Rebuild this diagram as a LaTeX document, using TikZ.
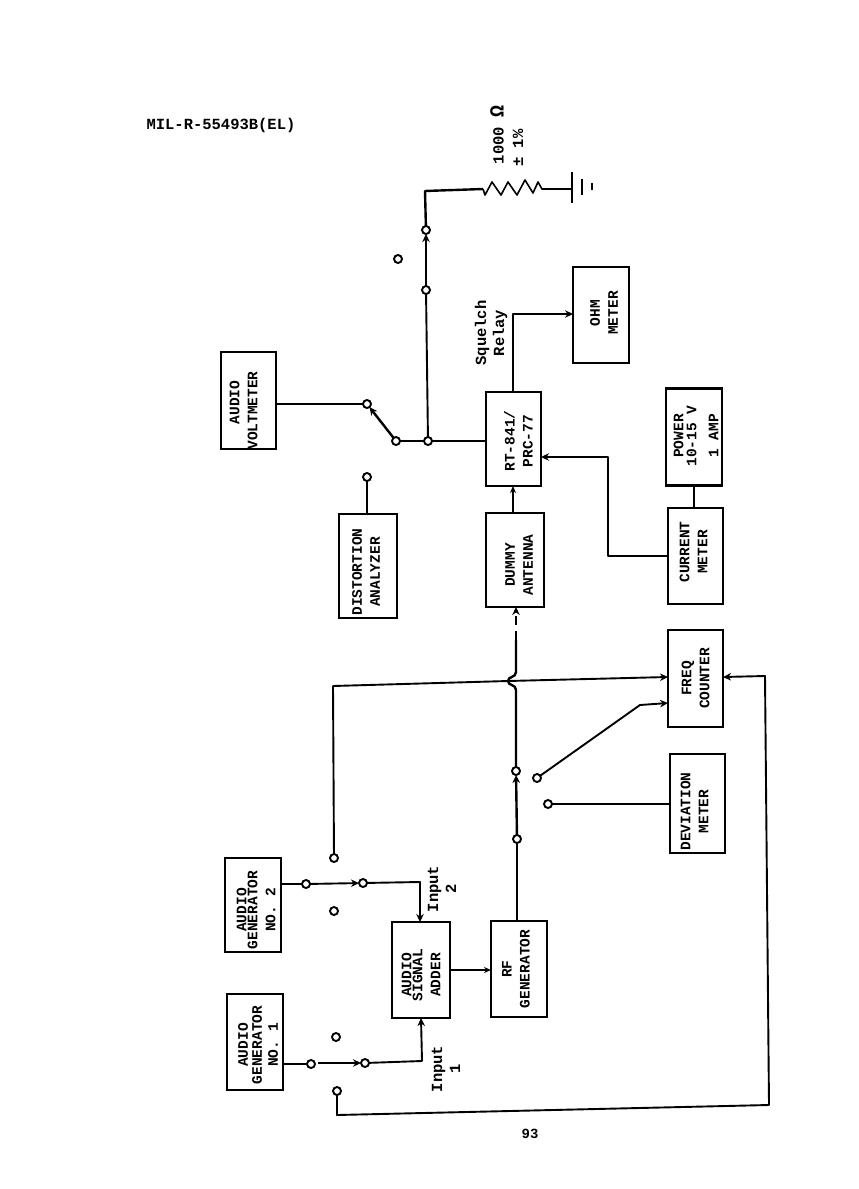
\documentclass[tikz,border=0pt]{standalone}
\usepackage{fontspec}
\setmainfont{Liberation Mono}
\usetikzlibrary{arrows.meta}
\tikzset{
  x=1pt,y=-1pt,
  every node/.style={inner sep=0pt,outer sep=0pt},
  wire/.style={line width=1.9pt,line join=round},
  heavy wire/.style={line width=2.4pt,line join=round},
  thin wire/.style={line width=1.5pt},
  to arrow/.style={-{Stealth[length=8pt,width=7.5pt]}},
  open arrow/.style={-{Stealth[length=7pt,width=6pt,open,fill=white]}},
  term/.style={circle,draw,fill=white,line width=1.9pt,minimum size=8pt},
  box/.style={rectangle,draw,line width=2.2pt,minimum width=#1},
  lab/.style={rotate=90,align=center,font=\fontsize{14.5}{18}\selectfont\bfseries},
  free/.style={rotate=90,align=center,font=\fontsize{15.5}{18}\selectfont\bfseries},
  nudge/.style 2 args={xshift=-#2 pt,yshift=-#1 pt},
}
\newcommand{\bx}[7][]{% [label options] name cx cy w h text
  \node[box=#5 pt,minimum height=#6 pt,label={[lab,#1]center:#7}] (#2) at (#3,#4) {};}
\begin{document}
\begin{tikzpicture}
\useasboundingbox (0,0) rectangle (859,1189);
% boxes
\bx[{nudge={-5}{2}}]{volt}{248.5}{400.5}{55}{97}{AUDIO\\VOLTMETER\hspace*{16pt}}
\bx[{nudge={3}{-2}}]{ohm}{601}{315}{56}{96}{OHM\\METER}
\bx[{nudge={5}{2}}]{rt}{513.5}{439}{55}{94}{RT-841/\\PRC-77\hspace*{0pt}}
\bx[{nudge={2}{-1}}]{power}{694}{437}{56}{97}{POWER\\[-5pt]10-15 V\\[4pt]1 AMP}
\bx[{nudge={-2}{-4}}]{curr}{695.5}{556}{55}{96}{CURRENT\\METER}
\bx[{nudge={4}{5}}]{dummy}{515}{560}{58}{94}{DUMMY\\ANTENNA}
\bx[{nudge={-2}{6}}]{dist}{368}{566}{58}{104}{DISTORTION\\ANALYZER}
\bx{freq}{695.5}{678.5}{55}{97}{FREQ\\COUNTER}
\bx[{nudge={-3}{8}}]{dev}{697.5}{803.5}{55}{99}{DEVIATION\\METER}
\bx[{nudge={3}{5}}]{gentwo}{253}{905}{56}{94}{AUDIO\\[-7pt]GENERATOR\\NO. 2}
\bx[{nudge={3}{3}}]{genone}{255}{1042}{56}{96}{AUDIO\\[-4pt]GENERATOR\\[-2pt]NO. 1}
\bx[{nudge={0}{5}}]{adder}{421}{970}{58}{96}{AUDIO\\[-7pt]SIGNAL\\ADDER}
\bx[{nudge={-3}{0}}]{rf}{519}{969}{56}{96}{RF\\GENERATOR}
% terminals
\node[term] (tr1) at (426,230) {};
\node[term] (tr2) at (426,290) {};
\node[term] (tloose) at (398,259) {};
\node[term] (tv) at (367,404) {};
\node[term] (tsw) at (396,441) {};
\node[term] (tj) at (428,441) {};
\node[term] (td) at (367,477) {};
\node[term] (trfa) at (516,771) {};
\node[term] (trfb) at (517,839) {};
\node[term] (tfc) at (537,778) {};
\node[term] (tdev) at (548,804) {};
\node[term] (tup) at (334,858) {};
\node[term] (tg2a) at (306,884) {};
\node[term] (tg2b) at (363,883) {};
\node[term] (tl2) at (334,911) {};
\node[term] (tl1) at (336,1037) {};
\node[term] (tg1a) at (311,1064) {};
\node[term] (tg1b) at (365,1063) {};
\node[term] (tret) at (337,1091) {};
% helper coordinates
\coordinate (rsa) at (483,189);
\coordinate (rsb) at (542,189);
\coordinate (gnd) at (572,189);
\coordinate (corner) at (425,191);
\coordinate (rtq) at (513,392);
\coordinate (sqc) at (513,314);
\coordinate (hopa) at (516,672);
\coordinate (hopb) at (516,690);
\coordinate (dashend) at (516,640);
\coordinate (g1s) at (318,1063);
% right-hand resistor branch
\draw[heavy wire] (tr1) -- (corner) -- (rsa);
\draw[line width=1.6pt,line join=round] (rsa) -- (485,195) -- (492,182) -- (501,195) -- (508,182) -- (517,195) -- (525,180) -- (533,193) -- (538,182) -- (rsb) -- (gnd);
\draw[line width=2.2pt] (572,172) -- (572,203);
\draw[line width=2.2pt] (582,179) -- (582,195);
\draw[line width=2.2pt] (592,183) -- (592,190);
\draw[heavy wire,to arrow] (tr2) -- (tr1);
\draw[wire] (tj) -- (tr2);
\draw[wire] (tsw) -- (tj);
\draw[heavy wire] (tj) -- (tj -| rt.west);
\draw[heavy wire,to arrow] (tsw) -- (tv);
\draw[thin wire] (tv) -- (tv -| volt.east);
\draw[heavy wire] (td) -- (td |- dist.north);
% RT connections
\draw[heavy wire,to arrow] (rtq) -- (sqc) -- (sqc -| ohm.west);
\draw[wire,open arrow] (dummy.north -| rtq) -- (rt.south -| rtq);
\draw[wire,to arrow] (curr.west) -- (608,556) -- (608,457) -- (rt.east |- 0,457);
\draw[wire] (power.south) -- (curr.north -| power.south);
% RF path
\draw[wire] (rf.north -| trfb) -- (trfb);
\draw[heavy wire,to arrow] (trfb) -- (trfa);
\draw[heavy wire] (trfa) -- (hopb) .. controls (516,684) and (508,686) .. (508,681) .. controls (508,676) and (516,678) .. (hopa) -- (dashend);
\draw[heavy wire,to arrow,dash pattern=on 9pt off 6pt] (dashend) -- (dashend |- dummy.south);
% freq counter
\draw[wire,to arrow] (tup) -- (333,686) -- (508,681) -- (freq.west |- 0,677);
\draw[wire,to arrow] (tfc) -- (640,705) -- (freq.west |- 0,703);
\draw[wire] (tdev) -- (dev.west |- tdev);
\draw[wire,to arrow] (tret) -- (337,1115) -- (769,1105) -- (765,676) -- (freq.east |- 0,677);
% generators
\draw[heavy wire] (tg2a) -- (tg2a -| gentwo.east);
\draw[wire,to arrow] (tg2a) -- (tg2b);
\draw[wire,to arrow] (tg2b) -- (420,882) -- (420,922);
\draw[heavy wire] (tg1a) -- (tg1a -| genone.east);
\draw[wire,to arrow] (g1s) -- (tg1b);
\draw[wire,to arrow] (tg1b) -- (422,1061) -- (421,1018);
\draw[wire,open arrow] (adder.east) -- (rf.west |- adder.east);
% texts
\node[font=\fontsize{15.5}{18}\selectfont\bfseries] (title) at (221,125) {MIL-R-55493B(EL)};
\node[free] (rval) at (497,135) {1000 \fontsize{20}{18}\selectfont Ω};
\node[free] (rtol) at (518,148) {± 1\%};
\node[free] (sq) at (491,333) {Squelch\\Relay};
\node[free] (ina) at (442,889) {Input\\2};
\node[free] (inb) at (446,1069) {Input\\1};
\node[font=\fontsize{14}{14}\selectfont\bfseries] (pg) at (530,1134) {93};
\end{tikzpicture}
\end{document}
